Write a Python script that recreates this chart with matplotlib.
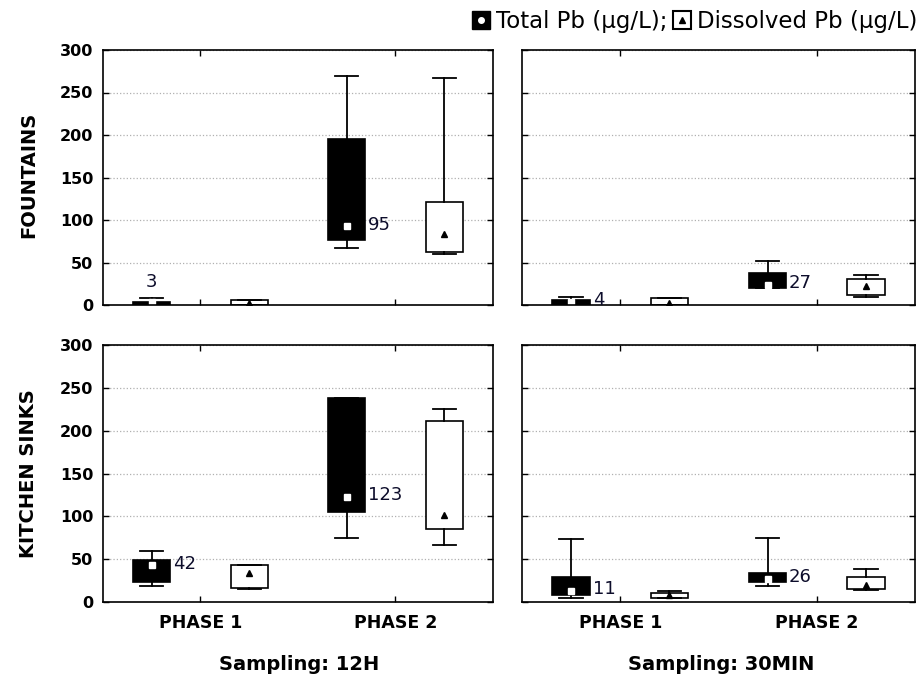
import numpy as np
import matplotlib
matplotlib.use('Agg')
import matplotlib.pyplot as plt
from matplotlib.lines import Line2D
from matplotlib.legend_handler import HandlerTuple

plt.rcParams['font.family'] = ['DejaVu Sans']

# panels: Fountains 12H, Fountains 30MIN, Kitchen sinks 12H, Kitchen sinks 30MIN
# each row -> [PHASE 1, PHASE 2]
phases = ['PHASE 1', 'PHASE 2']
rows = ['FOUNTAINS', 'KITCHEN SINKS']
cols = ['Sampling: 12H', 'Sampling: 30MIN']

# Total Pb (ug/L)
tot_lo  = [[0, 67],  [0, 20],  [19, 75],  [5, 19]]
tot_q1  = [[0, 77],  [0, 20],  [23, 105], [8, 23]]
tot_mid = [[3, 93],  [4, 24],  [43, 123], [13, 27]]
tot_q3  = [[4, 195], [6, 38],  [49, 238], [29, 34]]
tot_hi  = [[8, 270], [10, 52], [59, 238], [73, 75]]
tot_lab = [[3, 95],  [4, 27],  [42, 123], [11, 26]]

# Dissolved Pb (ug/L)
dis_lo  = [[0, 60],  [0, 10],  [15, 66],  [5, 14]]
dis_q1  = [[0, 62],  [0, 12],  [16, 85],  [5, 15]]
dis_mid = [[2, 84],  [2, 22],  [34, 102], [8, 20]]
dis_q3  = [[6, 121], [8, 31],  [43, 211], [11, 29]]
dis_hi  = [[6, 267], [8, 35],  [43, 225], [13, 38]]

W, H = 920, 682
fig = plt.figure(figsize=(W / 100, H / 100), dpi=100)

boxes_px = [(103, 50, 390, 255), (522, 50, 393, 255),
            (103, 345, 390, 257), (522, 345, 393, 257)]

def stats(lo, q1, mid, q3, hi):
    return [dict(whislo=lo[i], q1=q1[i], med=mid[i], mean=mid[i], q3=q3[i],
                 whishi=hi[i], fliers=[]) for i in range(2)]

axes = []
for k, (x, y, w, h) in enumerate(boxes_px):
    ax = fig.add_axes([x / W, 1 - (y + h) / H, w / W, h / H])
    axes.append(ax)
    pos = np.arange(1, 3)
    common = dict(widths=0.19, capwidths=0.12, showmeans=True, patch_artist=True,
                  medianprops=dict(linewidth=0),
                  whiskerprops=dict(color='black', linewidth=1.3),
                  capprops=dict(color='black', linewidth=1.3))
    ax.bxp(stats(tot_lo[k], tot_q1[k], tot_mid[k], tot_q3[k], tot_hi[k]),
           positions=pos - 0.25,
           boxprops=dict(facecolor='black', edgecolor='black', linewidth=1.2),
           meanprops=dict(marker='s', markerfacecolor='white', markeredgecolor='white',
                          markersize=4.5),
           **common)
    ax.bxp(stats(dis_lo[k], dis_q1[k], dis_mid[k], dis_q3[k], dis_hi[k]),
           positions=pos + 0.25,
           boxprops=dict(facecolor='white', edgecolor='black', linewidth=1.2),
           meanprops=dict(marker='^', markerfacecolor='black', markeredgecolor='black',
                          markersize=5),
           **common)

    # value labels for total Pb
    for i in range(2):
        if k == 0 and i == 0:
            ax.annotate(str(tot_lab[k][i]), (pos[i] - 0.25, tot_mid[k][i]),
                        xytext=(0, 8), textcoords='offset points',
                        ha='center', va='bottom', fontsize=13, color='#0d0d2b')
        else:
            ax.annotate(str(tot_lab[k][i]), (pos[i] - 0.25 + 0.095, tot_mid[k][i]),
                        xytext=(2, 1), textcoords='offset points',
                        ha='left', va='center', fontsize=13, color='#0d0d2b')

    ax.set_xlim(0.5, 2.5)
    ax.set_ylim(0, 300)
    ax.set_yticks(range(0, 301, 50))
    ax.set_xticks(pos)
    ax.grid(axis='y', linestyle=':', color='#b0b0b0', linewidth=0.9)
    ax.set_axisbelow(True)
    ax.tick_params(direction='in', top=True, right=True, length=4, width=1,
                   labelsize=11.5, pad=7)
    ax.tick_params(axis='x', labelsize=12.5, pad=9)
    for s in ax.spines.values():
        s.set_linewidth(1.2)
    if k < 2:
        ax.set_xticklabels([])
    else:
        ax.set_xticklabels(phases, fontweight='bold')
    if k % 2 == 1:
        ax.set_yticklabels([])
    else:
        ax.set_yticklabels([str(v) for v in range(0, 301, 50)], fontweight='bold')

for r, name in enumerate(rows):
    yc = [175, 474][r]
    fig.text(29 / W, 1 - yc / H, name, rotation=90, ha='center', va='center',
             fontsize=14, fontweight='bold')
for c, name in enumerate(cols):
    xc = [299, 721][c]
    fig.text(xc / W, 1 - 665 / H, name, ha='center', va='center',
             fontsize=14, fontweight='bold')

h_tot = (Line2D([], [], marker='s', color='black', markersize=13, linestyle='none'),
         Line2D([], [], marker='o', color='white', markersize=4, linestyle='none'))
h_dis = (Line2D([], [], marker='s', markerfacecolor='white', markeredgecolor='black',
                markeredgewidth=1.5, markersize=13, linestyle='none'),
         Line2D([], [], marker='^', color='black', markersize=5, linestyle='none'))
fig.legend([h_tot, h_dis], ['Total Pb (µg/L);', 'Dissolved Pb (µg/L)'],
           handler_map={tuple: HandlerTuple(ndivide=1, pad=0)},
           loc='upper right', bbox_to_anchor=(1.015, 1.009), ncol=2, frameon=False,
           fontsize=16.5, handlelength=0.8, handletextpad=0.25, columnspacing=0.25,
           borderpad=0.2)

fig.savefig('out.png', dpi=100)
